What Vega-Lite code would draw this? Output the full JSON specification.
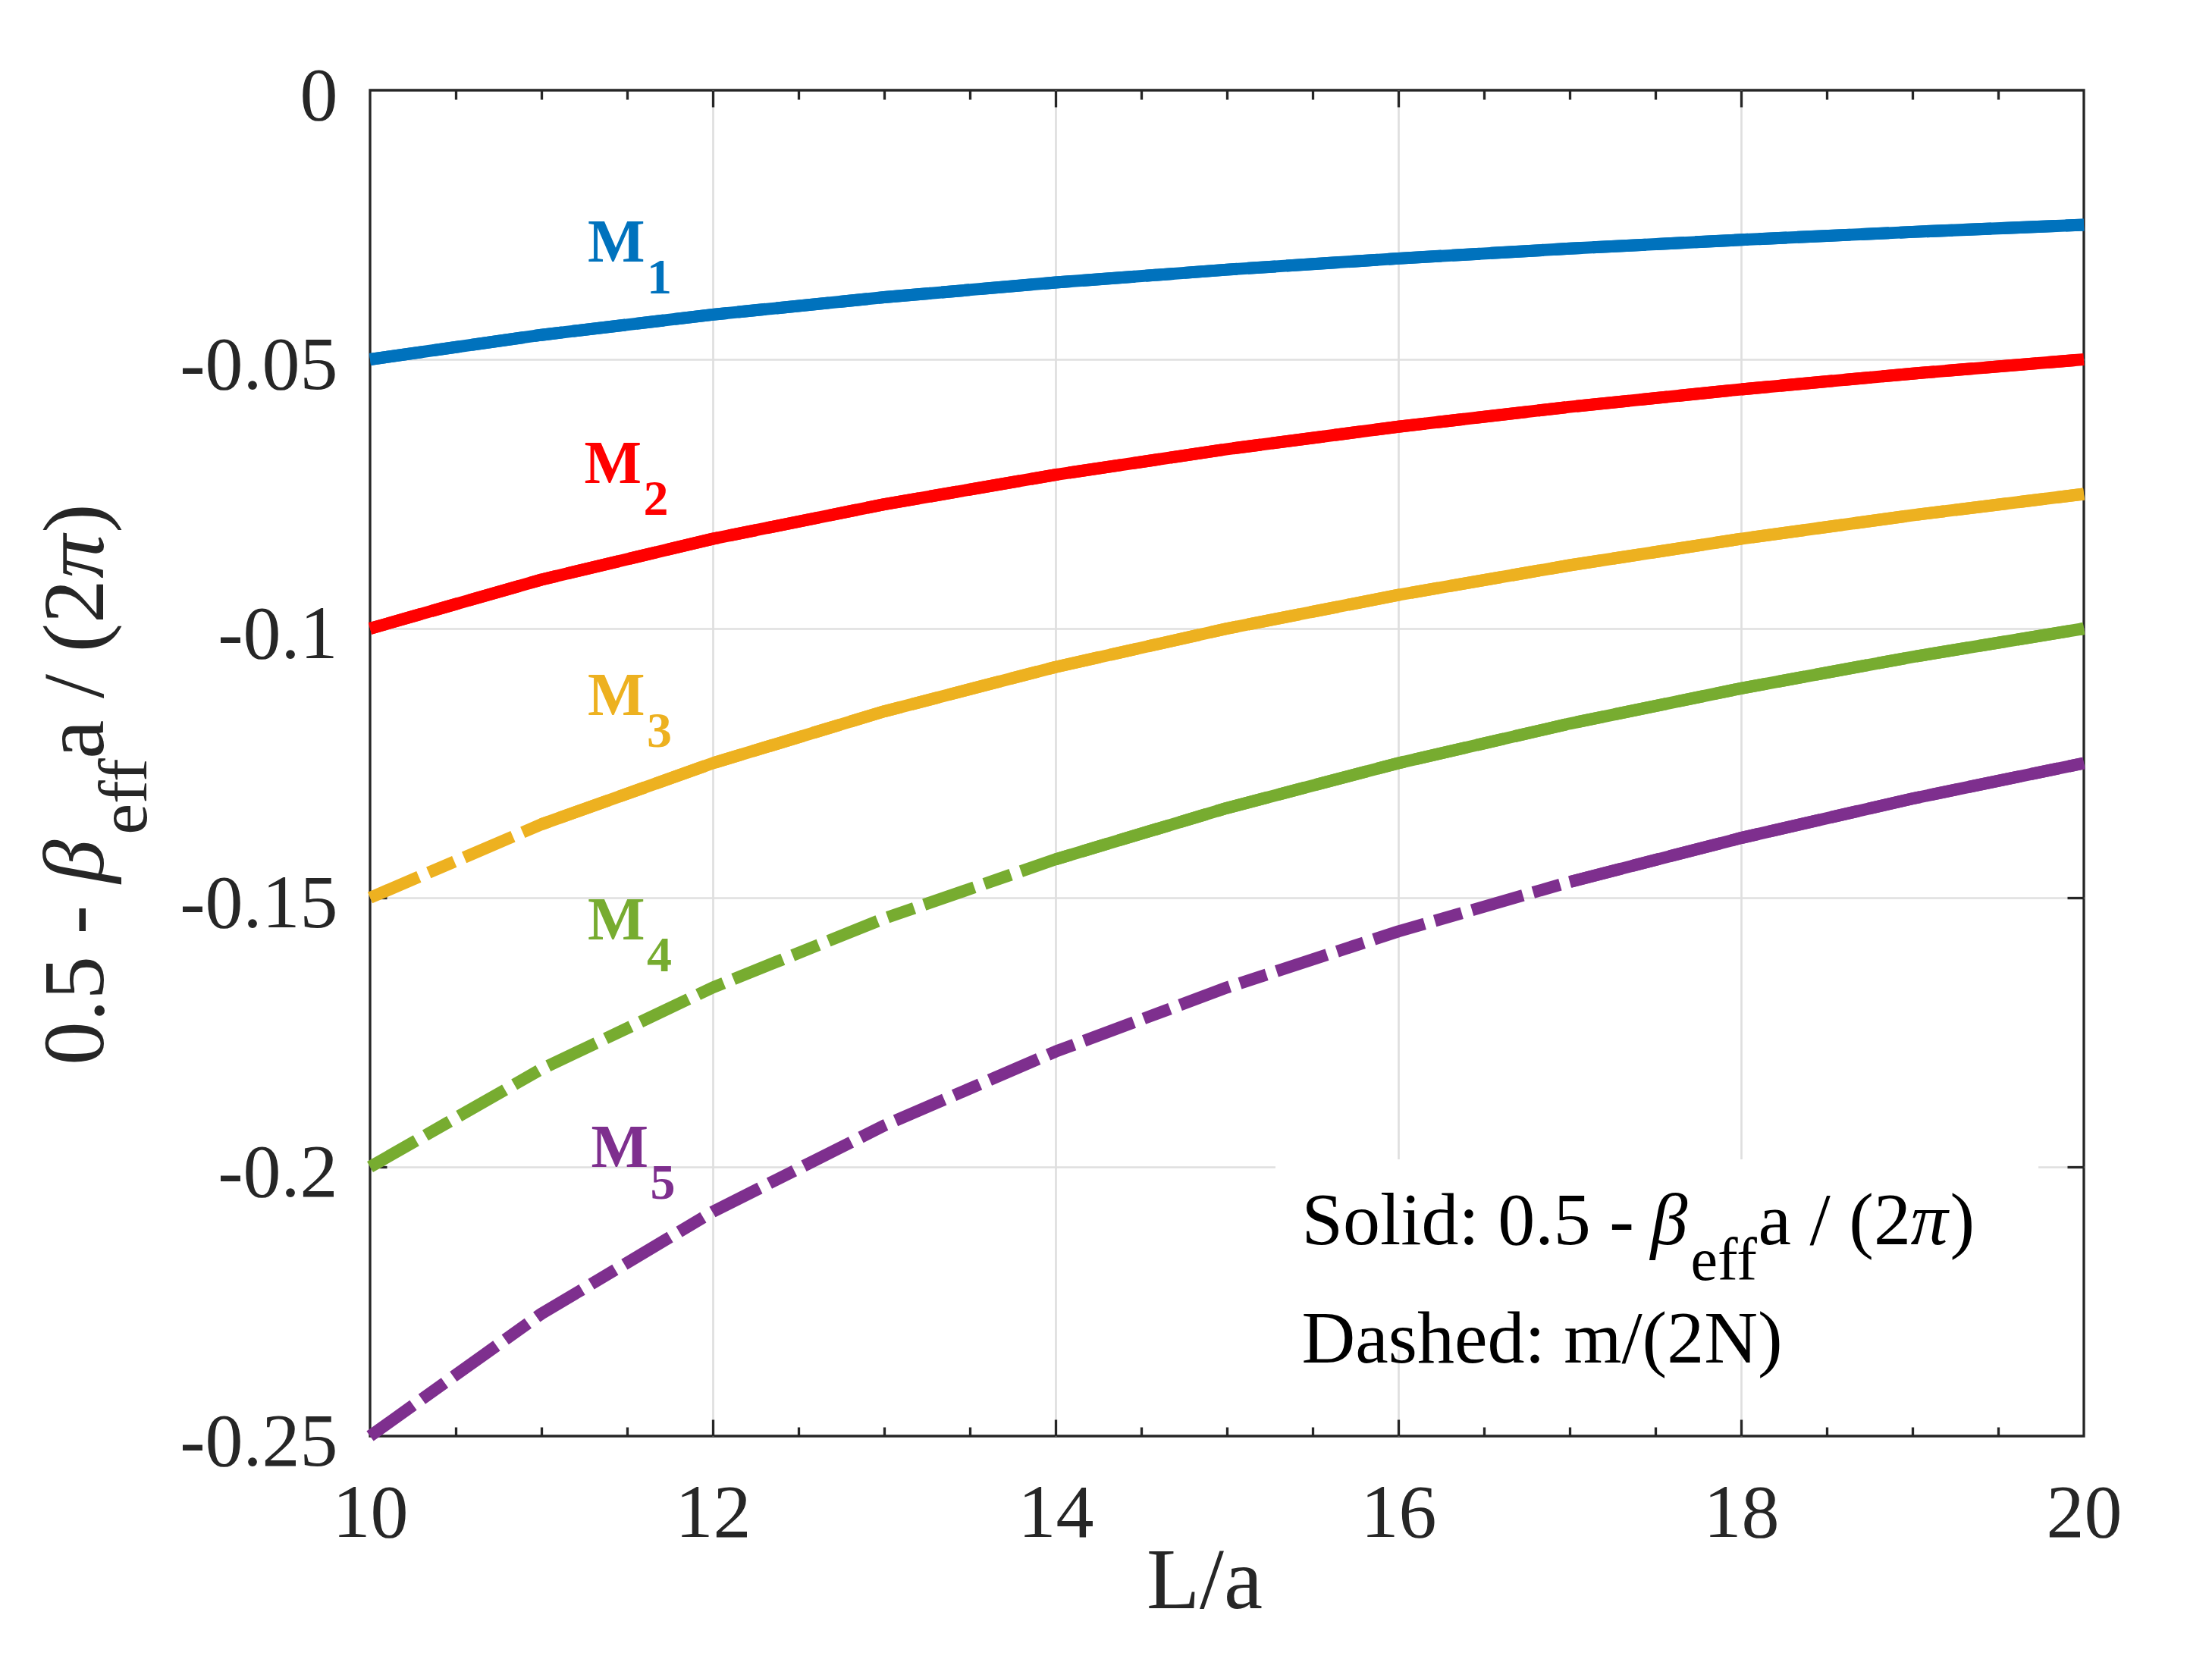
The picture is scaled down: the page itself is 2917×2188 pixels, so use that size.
{
  "$schema": "https://vega.github.io/schema/vega-lite/v6.json",
  "width": 2260,
  "height": 1775,
  "autosize": {"type": "none"},
  "padding": {"left": 488, "top": 119, "right": 169, "bottom": 294},
  "background": "white",
  "config": {
    "view": {"stroke": "#262626", "strokeWidth": 3.3},
    "axis": {
      "domain": false,
      "labelFont": "Liberation Serif",
      "labelFontSize": 100,
      "labelColor": "#262626",
      "labelLimit": 0,
      "tickColor": "#262626",
      "tickWidth": 3.3,
      "gridColor": "#DFDFDF",
      "gridWidth": 2.7,
      "gridOpacity": 1,
      "titleFont": "Liberation Serif",
      "titleFontSize": 115,
      "titleFontWeight": "normal",
      "titleColor": "#262626"
    }
  },
  "datasets": {
    "dashed": [
      {"series": "M1", "L": 10, "v": -0.05}, {"series": "M1", "L": 11, "v": -0.04545}, {"series": "M1", "L": 12, "v": -0.04167}, {"series": "M1", "L": 13, "v": -0.03846}, {"series": "M1", "L": 14, "v": -0.03571}, {"series": "M1", "L": 15, "v": -0.03333}, {"series": "M1", "L": 16, "v": -0.03125}, {"series": "M1", "L": 17, "v": -0.02941}, {"series": "M1", "L": 18, "v": -0.02778}, {"series": "M1", "L": 19, "v": -0.02632}, {"series": "M1", "L": 20, "v": -0.025},
      {"series": "M2", "L": 10, "v": -0.1}, {"series": "M2", "L": 11, "v": -0.09091}, {"series": "M2", "L": 12, "v": -0.08333}, {"series": "M2", "L": 13, "v": -0.07692}, {"series": "M2", "L": 14, "v": -0.07143}, {"series": "M2", "L": 15, "v": -0.06667}, {"series": "M2", "L": 16, "v": -0.0625}, {"series": "M2", "L": 17, "v": -0.05882}, {"series": "M2", "L": 18, "v": -0.05556}, {"series": "M2", "L": 19, "v": -0.05263}, {"series": "M2", "L": 20, "v": -0.05},
      {"series": "M3", "L": 10, "v": -0.15}, {"series": "M3", "L": 11, "v": -0.13636}, {"series": "M3", "L": 12, "v": -0.125}, {"series": "M3", "L": 13, "v": -0.11538}, {"series": "M3", "L": 14, "v": -0.10714}, {"series": "M3", "L": 15, "v": -0.1}, {"series": "M3", "L": 16, "v": -0.09375}, {"series": "M3", "L": 17, "v": -0.08824}, {"series": "M3", "L": 18, "v": -0.08333}, {"series": "M3", "L": 19, "v": -0.07895}, {"series": "M3", "L": 20, "v": -0.075},
      {"series": "M4", "L": 10, "v": -0.2}, {"series": "M4", "L": 11, "v": -0.18182}, {"series": "M4", "L": 12, "v": -0.16667}, {"series": "M4", "L": 13, "v": -0.15385}, {"series": "M4", "L": 14, "v": -0.14286}, {"series": "M4", "L": 15, "v": -0.13333}, {"series": "M4", "L": 16, "v": -0.125}, {"series": "M4", "L": 17, "v": -0.11765}, {"series": "M4", "L": 18, "v": -0.11111}, {"series": "M4", "L": 19, "v": -0.10526}, {"series": "M4", "L": 20, "v": -0.1},
      {"series": "M5", "L": 10, "v": -0.25}, {"series": "M5", "L": 11, "v": -0.22727}, {"series": "M5", "L": 12, "v": -0.20833}, {"series": "M5", "L": 13, "v": -0.19231}, {"series": "M5", "L": 14, "v": -0.17857}, {"series": "M5", "L": 15, "v": -0.16667}, {"series": "M5", "L": 16, "v": -0.15625}, {"series": "M5", "L": 17, "v": -0.14706}, {"series": "M5", "L": 18, "v": -0.13889}, {"series": "M5", "L": 19, "v": -0.13158}, {"series": "M5", "L": 20, "v": -0.125}
    ],
    "solid": [
      {"series": "M1", "L": 10, "v": -0.05}, {"series": "M1", "L": 11, "v": -0.04545}, {"series": "M1", "L": 12, "v": -0.04167}, {"series": "M1", "L": 13, "v": -0.03846}, {"series": "M1", "L": 14, "v": -0.03571}, {"series": "M1", "L": 15, "v": -0.03333}, {"series": "M1", "L": 16, "v": -0.03125}, {"series": "M1", "L": 17, "v": -0.02941}, {"series": "M1", "L": 18, "v": -0.02778}, {"series": "M1", "L": 19, "v": -0.02632}, {"series": "M1", "L": 20, "v": -0.025},
      {"series": "M2", "L": 10, "v": -0.1}, {"series": "M2", "L": 11, "v": -0.09091}, {"series": "M2", "L": 12, "v": -0.08333}, {"series": "M2", "L": 13, "v": -0.07692}, {"series": "M2", "L": 14, "v": -0.07143}, {"series": "M2", "L": 15, "v": -0.06667}, {"series": "M2", "L": 16, "v": -0.0625}, {"series": "M2", "L": 17, "v": -0.05882}, {"series": "M2", "L": 18, "v": -0.05556}, {"series": "M2", "L": 19, "v": -0.05263}, {"series": "M2", "L": 20, "v": -0.05},
      {"series": "M3", "L": 11, "v": -0.13636}, {"series": "M3", "L": 12, "v": -0.125}, {"series": "M3", "L": 13, "v": -0.11538}, {"series": "M3", "L": 14, "v": -0.10714}, {"series": "M3", "L": 15, "v": -0.1}, {"series": "M3", "L": 16, "v": -0.09375}, {"series": "M3", "L": 17, "v": -0.08824}, {"series": "M3", "L": 18, "v": -0.08333}, {"series": "M3", "L": 19, "v": -0.07895}, {"series": "M3", "L": 20, "v": -0.075},
      {"series": "M4", "L": 14, "v": -0.14286}, {"series": "M4", "L": 15, "v": -0.13333}, {"series": "M4", "L": 16, "v": -0.125}, {"series": "M4", "L": 17, "v": -0.11765}, {"series": "M4", "L": 18, "v": -0.11111}, {"series": "M4", "L": 19, "v": -0.10526}, {"series": "M4", "L": 20, "v": -0.1},
      {"series": "M5", "L": 17, "v": -0.14706}, {"series": "M5", "L": 18, "v": -0.13889}, {"series": "M5", "L": 19, "v": -0.13158}, {"series": "M5", "L": 20, "v": -0.125}
    ],
    "labels": [
      {"series": "M1", "sub": "1", "L": 11.27, "v": -0.0318},
      {"series": "M2", "sub": "2", "L": 11.25, "v": -0.073},
      {"series": "M3", "sub": "3", "L": 11.27, "v": -0.116},
      {"series": "M4", "sub": "4", "L": 11.27, "v": -0.1578},
      {"series": "M5", "sub": "5", "L": 11.29, "v": -0.2}
    ]
  },
  "resolve": {"axis": {"x": "independent", "y": "independent"}},
  "layer": [
    {
      "data": {"name": "dashed"},
      "mark": {"type": "line", "strokeWidth": 16, "strokeDash": [70, 14, 37, 14], "strokeCap": "butt", "strokeJoin": "round"},
      "encoding": {
        "x": {"field": "L", "type": "quantitative", "scale": {"domain": [10, 20], "nice": false, "zero": false},
          "axis": {"orient": "bottom", "values": [10, 12, 14, 16, 18, 20], "ticks": false, "grid": false, "labelPadding": 53, "labelFlush": false, "labelOverlap": false, "title": "L/a", "titlePadding": -17, "titleX": 1100}},
        "y": {"field": "v", "type": "quantitative", "scale": {"domain": [-0.25, 0], "nice": false, "zero": false},
          "axis": {"orient": "left", "values": [0, -0.05, -0.1, -0.15, -0.2, -0.25], "ticks": false, "grid": false, "labelPadding": 43, "labelOffset": 8, "labelBaseline": "middle", "labelFlush": false, "labelOverlap": false, "labelExpr": "datum.value == 0 ? '0' : '-' + format(-datum.value, '~g')", "title": null}},
        "color": {"field": "series", "type": "nominal", "scale": {"domain": ["M1", "M2", "M3", "M4", "M5"], "range": ["#0072BD", "#FF0000", "#EDB120", "#77AC30", "#7E2F8E"]}, "legend": null}
      }
    },
    {
      "data": {"name": "solid"},
      "mark": {"type": "line", "strokeWidth": 16, "strokeCap": "butt", "strokeJoin": "round"},
      "encoding": {
        "x": {"field": "L", "type": "quantitative",
          "axis": {"orient": "bottom", "values": [12, 14, 16, 18], "tickSize": -22, "labels": false, "grid": true, "title": null}},
        "y": {"field": "v", "type": "quantitative",
          "axis": {"orient": "left", "values": [-0.05, -0.1, -0.15, -0.2], "tickSize": -22, "labels": false, "grid": true, "title": null}},
        "color": {"field": "series", "type": "nominal", "legend": null}
      }
    },
    {
      "data": {"name": "labels"},
      "mark": {"type": "text", "text": "M", "font": "Liberation Serif", "fontWeight": "bold", "fontSize": 80, "align": "left", "baseline": "alphabetic"},
      "encoding": {
        "x": {"field": "L", "type": "quantitative",
          "axis": {"orient": "bottom", "values": [10.5, 11, 11.5, 12.5, 13, 13.5, 14.5, 15, 15.5, 16.5, 17, 17.5, 18.5, 19, 19.5], "tickSize": -12, "labels": false, "grid": false, "title": null}},
        "y": {"field": "v", "type": "quantitative",
          "axis": {"orient": "right", "values": [-0.05, -0.1, -0.15, -0.2], "tickSize": -22, "labels": false, "grid": false, "title": null}},
        "color": {"field": "series", "type": "nominal", "legend": null}
      }
    },
    {
      "data": {"name": "labels"},
      "mark": {"type": "text", "font": "Liberation Serif", "fontWeight": "bold", "fontSize": 66, "align": "left", "baseline": "alphabetic", "dx": 78, "dy": 42},
      "encoding": {
        "x": {"field": "L", "type": "quantitative",
          "axis": {"orient": "top", "values": [12, 14, 16, 18], "tickSize": -22, "labels": false, "grid": false, "title": null}},
        "y": {"field": "v", "type": "quantitative", "axis": null},
        "text": {"field": "sub"},
        "color": {"field": "series", "type": "nominal", "legend": null}
      }
    },
    {
      "data": {"values": [{"box": "legend"}]},
      "mark": {"type": "rect", "fill": "white", "stroke": null},
      "encoding": {
        "x": {"datum": 15.283, "type": "quantitative",
          "axis": {"orient": "top", "values": [10.5, 11, 11.5, 12.5, 13, 13.5, 14.5, 15, 15.5, 16.5, 17, 17.5, 18.5, 19, 19.5], "tickSize": -12, "labels": false, "grid": false, "title": null}},
        "x2": {"datum": 19.735},
        "y": {"datum": -0.1986, "type": "quantitative", "axis": null},
        "y2": {"datum": -0.2339}
      }
    },
    {
      "data": {"values": [{"t": "Solid: 0.5 - "}]},
      "mark": {"type": "text", "font": "Liberation Serif", "fontSize": 98, "align": "left", "baseline": "alphabetic", "fill": "#000000"},
      "encoding": {"x": {"datum": 15.436, "type": "quantitative", "axis": null}, "y": {"datum": -0.2144, "type": "quantitative", "axis": null}, "text": {"field": "t"}}
    },
    {
      "data": {"values": [{"t": "β"}]},
      "mark": {"type": "text", "font": "Liberation Serif", "fontSize": 98, "fontStyle": "italic", "align": "left", "baseline": "alphabetic", "fill": "#000000", "dx": 460},
      "encoding": {"x": {"datum": 15.436, "type": "quantitative", "axis": null}, "y": {"datum": -0.2144, "type": "quantitative", "axis": null}, "text": {"field": "t"}}
    },
    {
      "data": {"values": [{"t": "eff"}]},
      "mark": {"type": "text", "font": "Liberation Serif", "fontSize": 80, "align": "left", "baseline": "alphabetic", "fill": "#000000", "dx": 513, "dy": 47},
      "encoding": {"x": {"datum": 15.436, "type": "quantitative", "axis": null}, "y": {"datum": -0.2144, "type": "quantitative", "axis": null}, "text": {"field": "t"}}
    },
    {
      "data": {"values": [{"t": "a / (2"}]},
      "mark": {"type": "text", "font": "Liberation Serif", "fontSize": 98, "align": "left", "baseline": "alphabetic", "fill": "#000000", "dx": 602},
      "encoding": {"x": {"datum": 15.436, "type": "quantitative", "axis": null}, "y": {"datum": -0.2144, "type": "quantitative", "axis": null}, "text": {"field": "t"}}
    },
    {
      "data": {"values": [{"t": "π"}]},
      "mark": {"type": "text", "font": "Liberation Serif", "fontSize": 98, "fontStyle": "italic", "align": "left", "baseline": "alphabetic", "fill": "#000000", "dx": 803},
      "encoding": {"x": {"datum": 15.436, "type": "quantitative", "axis": null}, "y": {"datum": -0.2144, "type": "quantitative", "axis": null}, "text": {"field": "t"}}
    },
    {
      "data": {"values": [{"t": ")"}]},
      "mark": {"type": "text", "font": "Liberation Serif", "fontSize": 98, "align": "left", "baseline": "alphabetic", "fill": "#000000", "dx": 855},
      "encoding": {"x": {"datum": 15.436, "type": "quantitative", "axis": null}, "y": {"datum": -0.2144, "type": "quantitative", "axis": null}, "text": {"field": "t"}}
    },
    {
      "data": {"values": [{"t": "Dashed: m/(2N)"}]},
      "mark": {"type": "text", "font": "Liberation Serif", "fontSize": 98, "align": "left", "baseline": "alphabetic", "fill": "#000000"},
      "encoding": {"x": {"datum": 15.436, "type": "quantitative", "axis": null}, "y": {"datum": -0.2363, "type": "quantitative", "axis": null}, "text": {"field": "t"}}
    },
    {
      "data": {"values": [{"t": "0.5 - "}]},
      "mark": {"type": "text", "font": "Liberation Serif", "fontSize": 115, "align": "left", "baseline": "alphabetic", "fill": "#262626", "angle": 270},
      "encoding": {"x": {"datum": 8.4425, "type": "quantitative", "axis": null}, "y": {"datum": -0.1811, "type": "quantitative", "axis": null}, "text": {"field": "t"}}
    },
    {
      "data": {"values": [{"t": "β"}]},
      "mark": {"type": "text", "font": "Liberation Serif", "fontSize": 115, "fontStyle": "italic", "align": "left", "baseline": "alphabetic", "fill": "#262626", "angle": 270, "dx": 240},
      "encoding": {"x": {"datum": 8.4425, "type": "quantitative", "axis": null}, "y": {"datum": -0.1811, "type": "quantitative", "axis": null}, "text": {"field": "t"}}
    },
    {
      "data": {"values": [{"t": "eff"}]},
      "mark": {"type": "text", "font": "Liberation Serif", "fontSize": 92, "align": "left", "baseline": "alphabetic", "fill": "#262626", "angle": 270, "dx": 304, "dy": 57},
      "encoding": {"x": {"datum": 8.4425, "type": "quantitative", "axis": null}, "y": {"datum": -0.1811, "type": "quantitative", "axis": null}, "text": {"field": "t"}}
    },
    {
      "data": {"values": [{"t": "a / (2"}]},
      "mark": {"type": "text", "font": "Liberation Serif", "fontSize": 115, "align": "left", "baseline": "alphabetic", "fill": "#262626", "angle": 270, "dx": 404},
      "encoding": {"x": {"datum": 8.4425, "type": "quantitative", "axis": null}, "y": {"datum": -0.1811, "type": "quantitative", "axis": null}, "text": {"field": "t"}}
    },
    {
      "data": {"values": [{"t": "π"}]},
      "mark": {"type": "text", "font": "Liberation Serif", "fontSize": 115, "fontStyle": "italic", "align": "left", "baseline": "alphabetic", "fill": "#262626", "angle": 270, "dx": 642},
      "encoding": {"x": {"datum": 8.4425, "type": "quantitative", "axis": null}, "y": {"datum": -0.1811, "type": "quantitative", "axis": null}, "text": {"field": "t"}}
    },
    {
      "data": {"values": [{"t": ")"}]},
      "mark": {"type": "text", "font": "Liberation Serif", "fontSize": 115, "align": "left", "baseline": "alphabetic", "fill": "#262626", "angle": 270, "dx": 702},
      "encoding": {"x": {"datum": 8.4425, "type": "quantitative", "axis": null}, "y": {"datum": -0.1811, "type": "quantitative", "axis": null}, "text": {"field": "t"}}
    }
  ]
}
